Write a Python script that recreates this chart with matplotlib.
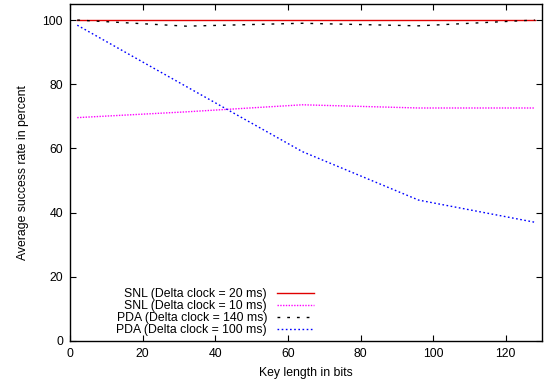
import numpy as np
import matplotlib
matplotlib.use('Agg')
import matplotlib.pyplot as plt

plt.rcParams['font.family'] = ['Liberation Sans', 'DejaVu Sans']
plt.rcParams['font.size'] = 8.8

# key lengths in bits
key_bits = [2, 32, 64, 96, 128]

# average success rate in percent
snl_20 = [100, 100, 100, 100, 100]
snl_10 = [69.6, 71.4, 73.6, 72.6, 72.6]
pda_140 = [100, 98.1, 99.0, 98.2, 100]
pda_100 = [98.4, 79.3, 59.0, 43.9, 37.0]

labels = ['SNL (Delta clock = 20 ms)', 'SNL (Delta clock = 10 ms)',
          'PDA (Delta clock = 140 ms)', 'PDA (Delta clock = 100 ms)']

fig = plt.figure(figsize=(5.47, 3.86), dpi=100)
ax = fig.add_axes([0.128, 0.1166, 0.863, 0.873])

ax.plot(key_bits, snl_20, color='#e00000', lw=1.0, label=labels[0])
ax.plot(key_bits, snl_10, color='#ff00ff', lw=1.0, linestyle=(0, (1, 1)), label=labels[1])
ax.plot(key_bits, pda_140, color='black', lw=1.0, linestyle=(0, (2, 5)), label=labels[2])
ax.plot(key_bits, pda_100, color='#0000ff', lw=1.0, linestyle=(0, (1.2, 1.8)), label=labels[3])

ax.set_xlim(0, 130)
ax.set_ylim(0, 105)
ax.set_xticks(range(0, 121, 20))
ax.set_yticks(range(0, 101, 20))
ax.tick_params(direction='in', length=4, top=True, right=True, width=0.8, pad=5)
for s in ax.spines.values():
    s.set_linewidth(1.0)

ax.set_xlabel('Key length in bits', labelpad=5)
ax.set_ylabel('Average success rate in percent', labelpad=10)

ax.legend(loc='lower left', bbox_to_anchor=(0.088, 0.0), frameon=False,
          markerfirst=False, handlelength=3.0, handletextpad=0.8,
          labelspacing=0.0, borderaxespad=0.0)

fig.savefig('out.png', dpi=100)
